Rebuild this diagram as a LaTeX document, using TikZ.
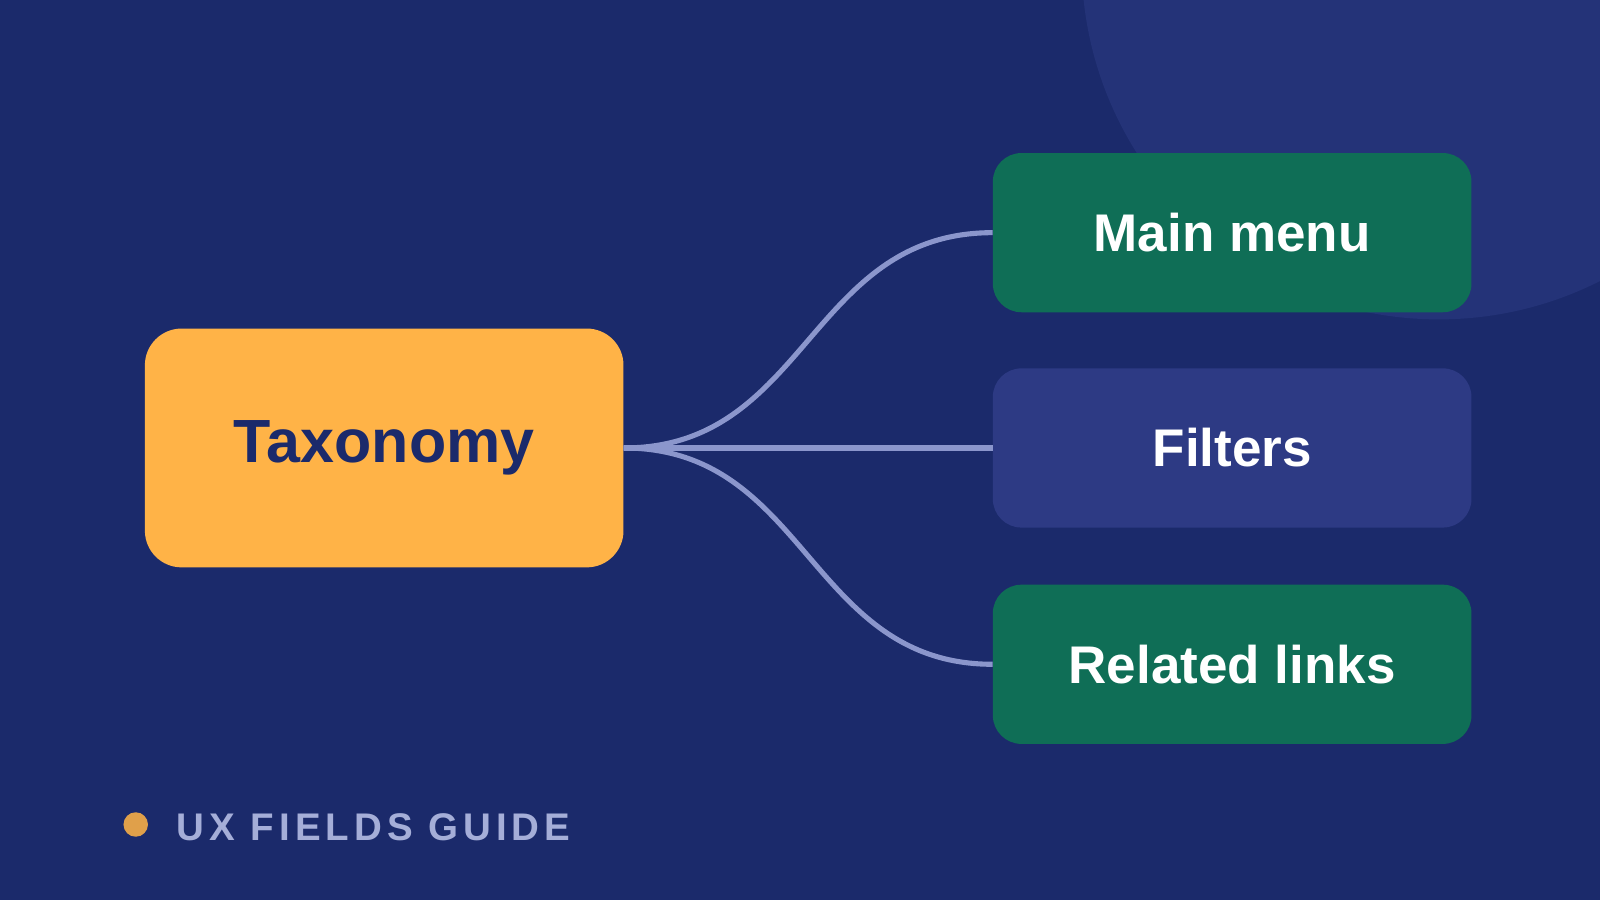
\documentclass[tikz,border=0pt]{standalone}
\usepackage{fontspec}
\setmainfont{Liberation Sans}
\usetikzlibrary{positioning}
\definecolor{bgblue}{HTML}{1B2A6B}
\definecolor{disc}{HTML}{243378}
\definecolor{taxo}{HTML}{FFB347}
\definecolor{leafgreen}{HTML}{0F6E56}
\definecolor{leafblue}{HTML}{2D3A84}
\definecolor{link}{HTML}{8B96CC}
\definecolor{caption}{HTML}{A5AED8}
\definecolor{dot}{HTML}{E0A04A}
\tikzset{
  leaf/.style={rounded corners=28.6pt, minimum width=478.6pt, minimum height=159.2pt,
    inner sep=0pt, text=white, font=\fontsize{53}{61}\selectfont\bfseries},
  conn/.style={link, line width=5.1pt},
}
\begin{document}
\begin{tikzpicture}[x=1.0204pt, y=-1.0204pt]
    \useasboundingbox (0,0) rectangle (1568,882);
    \fill[bgblue] (0,0) rectangle (1568,882);
    \begin{scope}
      \clip (0,0) rectangle (1568,882);
      \fill[disc] (1410,-37) circle[radius=350];
    \end{scope}

    % root
    \node[fill=taxo, rounded corners=36.7pt, minimum width=478.6pt, minimum height=238.8pt,
      inner sep=0pt, text=bgblue, font=\fontsize{61}{71}\selectfont\bfseries]
      (taxonomy) at (376.5,439) {Taxonomy};

    % leaves
    \node[leaf, fill=leafgreen] (mainmenu) at (1207.5,228) {Main menu};
    \node[leaf, fill=leafblue] (filters) at (1207.5,439) {Filters};
    \node[leaf, fill=leafgreen] (related) at (1207.5,651) {Related links};

    \draw[conn] (taxonomy.east) .. controls +(180,0) and +(-180,0) .. (mainmenu.west);
    \draw[conn] (taxonomy.east) -- (filters.west);
    \draw[conn] (taxonomy.east) .. controls +(180,0) and +(-180,0) .. (related.west);

    % caption
    \fill[dot] (133,808) circle[radius=12];
    \node[anchor=west, inner sep=0pt, text=caption,
      font=\fontsize{38.5}{44}\selectfont\bfseries\addfontfeature{LetterSpace=13}]
      (guide) at (173,811) {UX FIELDS GUIDE};
\end{tikzpicture}
\end{document}
